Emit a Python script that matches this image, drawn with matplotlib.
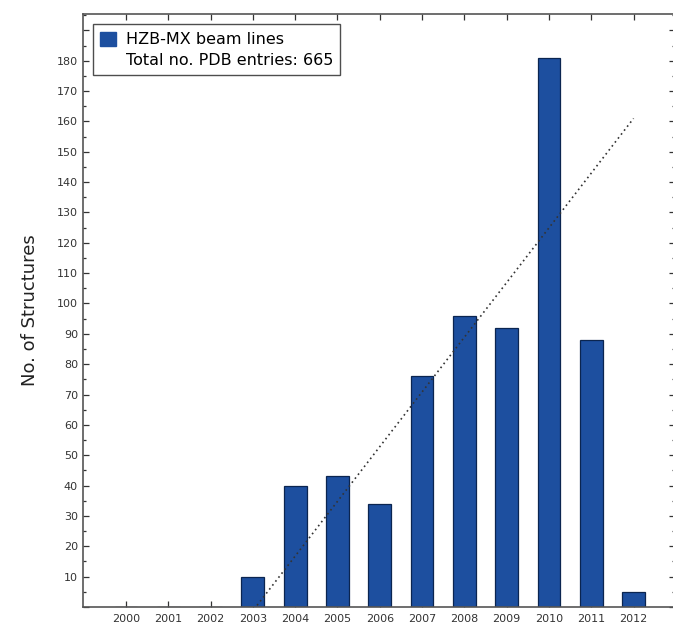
import matplotlib
matplotlib.use("Agg")
import matplotlib.pyplot as plt
from matplotlib.patches import Patch
from matplotlib.lines import Line2D
from matplotlib.ticker import MultipleLocator, FuncFormatter

years = [2000, 2001, 2002, 2003, 2004, 2005, 2006, 2007, 2008, 2009, 2010, 2011, 2012]
counts = [0, 0, 0, 10, 40, 43, 34, 76, 96, 92, 181, 88, 5]
trend_x = [2003.1, 2012.0]
trend_y = [0.5, 161]
legend_labels = ["HZB-MX beam lines", "Total no. PDB entries: 665"]
ylabel = "No. of Structures"

fig = plt.figure(figsize=(6.73, 6.25), dpi=100)
ax = fig.add_axes([0.123, 0.029, 0.88, 0.949])

ax.bar(years, counts, width=0.54, color="#1d4f9f", edgecolor="#0b2550", linewidth=0.9, zorder=2)
ax.plot(trend_x, trend_y, linestyle=(0, (1, 2.0)), color="#333333", linewidth=1.2, zorder=3)

ax.set_xlim(1998.98, 2012.98)
ax.set_ylim(0, 195.5)
ax.set_xticks(years)
ax.set_xticklabels([str(y) for y in years])
ax.yaxis.set_major_locator(MultipleLocator(10))
ax.yaxis.set_minor_locator(MultipleLocator(5))
ax.yaxis.set_major_formatter(FuncFormatter(lambda v, p: "" if v <= 0 or v > 185 else f"{int(v)}"))

ax.tick_params(axis="both", which="both", direction="in", top=True, right=True,
               labelsize=8, colors="#333333", width=0.9)
ax.tick_params(axis="both", which="major", length=4)
ax.tick_params(axis="y", which="minor", length=2)
ax.tick_params(axis="x", pad=5)
for s in ax.spines.values():
    s.set_color("#555555")
    s.set_linewidth(1.2)
ax.spines["right"].set_visible(False)

ax.set_ylabel(ylabel, fontsize=13, color="#222222", labelpad=13)

handles = [Patch(facecolor="#1d4f9f", edgecolor="#1d4f9f"), Line2D([], [], linestyle="none")]
leg = ax.legend(handles, legend_labels, loc="upper left", bbox_to_anchor=(0.009, 0.99),
                fontsize=11.5, frameon=True, fancybox=False, edgecolor="#222222",
                handlelength=1.0, handleheight=1.0, handletextpad=0.6, borderpad=0.45,
                labelspacing=0.3, borderaxespad=0.3)
leg.get_frame().set_linewidth(1.0)

fig.savefig("out.png", dpi=100)
